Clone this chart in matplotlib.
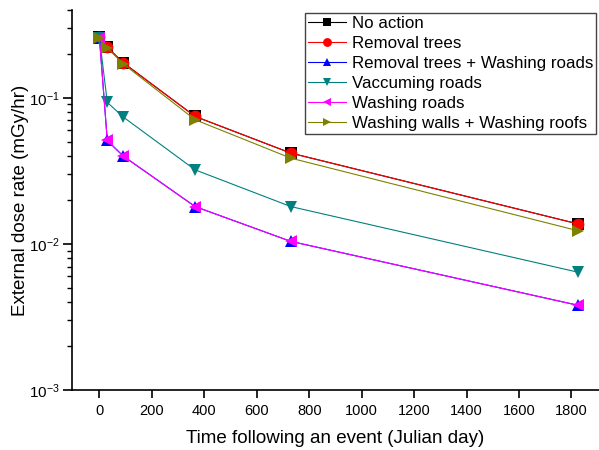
import numpy as np
import matplotlib
matplotlib.use("Agg")
import matplotlib.pyplot as plt
from matplotlib.ticker import LogLocator, FixedLocator, NullFormatter

plt.rcParams['font.family'] = ['Liberation Sans', 'DejaVu Sans']
plt.rcParams['mathtext.fontset'] = 'custom'
plt.rcParams['mathtext.rm'] = 'Liberation Sans'
plt.rcParams['mathtext.it'] = 'Liberation Sans'

# days after the event
days = [0, 30, 90, 365, 730, 1825]

# dose rate (mGy/hr) per scenario
no_action = [0.26, 0.222, 0.174, 0.0745, 0.0418, 0.0137]
removal_trees = [0.26, 0.222, 0.174, 0.0745, 0.0418, 0.0137]
trees_washing_roads = [0.258, 0.051, 0.040, 0.018, 0.0104, 0.0038]
vaccuming_roads = [0.258, 0.093, 0.074, 0.0321, 0.018, 0.0064]
washing_roads = [0.258, 0.051, 0.040, 0.018, 0.0104, 0.0038]
walls_roofs = [0.255, 0.219, 0.171, 0.0707, 0.0386, 0.0123]

series = [
    ('No action', no_action, 'black', 's'),
    ('Removal trees', removal_trees, 'red', 'o'),
    ('Removal trees + Washing roads', trees_washing_roads, 'blue', '^'),
    ('Vaccuming roads', vaccuming_roads, '#008080', 'v'),
    ('Washing roads', washing_roads, 'magenta', '<'),
    ('Washing walls + Washing roofs', walls_roofs, '#808000', '>'),
]

fig = plt.figure(figsize=(5.99, 4.5), dpi=100)
ax = fig.add_axes([0.12, 0.1333, 0.88, 0.845])

for name, vals, col, mk in series:
    ax.plot(days, vals, '-', color=col, marker=mk, markersize=8.5, lw=0.8,
            markeredgewidth=0, label=name)

ax.set_yscale('log')
ax.set_ylim(1e-3, 0.4)
ax.set_xlim(-105, 1905)
ax.xaxis.set_major_locator(FixedLocator(np.arange(0, 1801, 200)))
ax.yaxis.set_major_locator(LogLocator(base=10, numticks=10))
ax.yaxis.set_minor_locator(LogLocator(base=10, subs=np.arange(2, 10), numticks=10))
ax.yaxis.set_minor_formatter(NullFormatter())

ax.spines['top'].set_visible(False)
ax.spines['right'].set_visible(False)
ax.spines['left'].set_linewidth(1.2)
ax.spines['bottom'].set_linewidth(1.2)
ax.tick_params(axis='x', direction='out', length=6, width=1.2, labelsize=10.5, pad=4)
ax.tick_params(axis='y', which='major', direction='out', length=6.5, width=1.2, labelsize=11, pad=2)
ax.tick_params(axis='y', which='minor', direction='out', length=3.5, width=1)

ax.set_xlabel('Time following an event (Julian day)', fontsize=13.5, labelpad=9)
ax.set_ylabel('External dose rate (mGy/hr)', fontsize=13.5)
ax.yaxis.set_label_coords(-0.082, 0.5)

leg = ax.legend(loc='upper right', bbox_to_anchor=(1.0, 1.0), fontsize=12.2,
                fancybox=False, edgecolor='#444444', framealpha=1,
                borderpad=0.15, labelspacing=0.3, handlelength=2.25,
                handletextpad=0.35, borderaxespad=0.2, markerscale=0.75)
leg.get_frame().set_linewidth(1.0)

fig.savefig('out.png', dpi=100)
